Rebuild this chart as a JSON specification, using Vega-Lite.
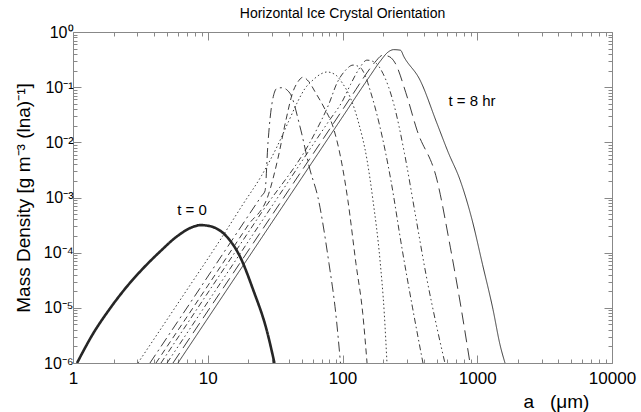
{
  "$schema": "https://vega.github.io/schema/vega-lite/v6.json",
  "width": 539,
  "height": 331,
  "autosize": "none",
  "padding": {"left": 73, "top": 32, "right": 29, "bottom": 49},
  "title": {
    "text": "Horizontal Ice Crystal Orientation",
    "fontSize": 14,
    "fontWeight": "normal",
    "font": "Liberation Sans",
    "color": "#000",
    "offset": 3,
    "frame": "group",
    "anchor": "middle"
  },
  "config": {
    "view": {"stroke": "#888", "strokeWidth": 1},
    "font": "Liberation Sans",
    "axis": {"grid": false, "domain": false, "tickColor": "#888", "tickWidth": 1, "labelColor": "#000", "titleColor": "#000", "labelFont": "Liberation Sans", "titleFont": "Liberation Sans", "titleFontWeight": "normal", "labelOverlap": false, "labelBound": false, "labelFlush": false}
  },
  "layer": [
    {
      "data": {
        "values": [
          {"series": "s0", "a": 1.0715, "mass": 0.000001},
          {"series": "s0", "a": 1.416, "mass": 3.467e-6},
          {"series": "s0", "a": 1.884, "mass": 9.772e-6},
          {"series": "s0", "a": 2.5, "mass": 2.399e-5},
          {"series": "s0", "a": 3.327, "mass": 5.248e-5},
          {"series": "s0", "a": 4.426, "mass": 1.047e-4},
          {"series": "s0", "a": 5.875, "mass": 1.95e-4},
          {"series": "s0", "a": 7.816, "mass": 2.951e-4},
          {"series": "s0", "a": 8.77, "mass": 3.162e-4},
          {"series": "s0", "a": 10.4, "mass": 3.02e-4},
          {"series": "s0", "a": 13.84, "mass": 1.95e-4},
          {"series": "s0", "a": 17.34, "mass": 8.511e-5},
          {"series": "s0", "a": 21.78, "mass": 2.089e-5},
          {"series": "s0", "a": 27.35, "mass": 3.981e-6},
          {"series": "s0", "a": 31.26, "mass": 0.000001},

          {"series": "s1", "a": 3.724, "mass": 0.000001},
          {"series": "s1", "a": 7.943, "mass": 1.585e-5},
          {"series": "s1", "a": 15.85, "mass": 1.995e-4},
          {"series": "s1", "a": 25.12, "mass": 1.072e-3},
          {"series": "s1", "a": 26.61, "mass": 1.318e-3},
          {"series": "s1", "a": 27.99, "mass": 9.772e-3},
          {"series": "s1", "a": 29.99, "mass": 0.05129},
          {"series": "s1", "a": 32.66, "mass": 0.0955},
          {"series": "s1", "a": 35.48, "mass": 0.09772},
          {"series": "s1", "a": 40.74, "mass": 0.07762},
          {"series": "s1", "a": 48.42, "mass": 0.01905},
          {"series": "s1", "a": 57.41, "mass": 3.162e-3},
          {"series": "s1", "a": 65.77, "mass": 0.001},
          {"series": "s1", "a": 79.43, "mass": 6.31e-5},
          {"series": "s1", "a": 89.13, "mass": 7.943e-6},
          {"series": "s1", "a": 96.61, "mass": 0.000001},

          {"series": "s2", "a": 4.13, "mass": 0.000001},
          {"series": "s2", "a": 10, "mass": 2.512e-5},
          {"series": "s2", "a": 19.95, "mass": 3.162e-4},
          {"series": "s2", "a": 28.18, "mass": 1.122e-3},
          {"series": "s2", "a": 33.11, "mass": 5.012e-3},
          {"series": "s2", "a": 38.02, "mass": 0.02512},
          {"series": "s2", "a": 42.66, "mass": 0.07943},
          {"series": "s2", "a": 46.77, "mass": 0.1259},
          {"series": "s2", "a": 50.93, "mass": 0.1514},
          {"series": "s2", "a": 56.23, "mass": 0.1259},
          {"series": "s2", "a": 63.1, "mass": 0.07943},
          {"series": "s2", "a": 74.13, "mass": 0.03981},
          {"series": "s2", "a": 85.11, "mass": 0.01905},
          {"series": "s2", "a": 100, "mass": 3.548e-3},
          {"series": "s2", "a": 109.6, "mass": 8.913e-4},
          {"series": "s2", "a": 125.9, "mass": 6.31e-5},
          {"series": "s2", "a": 141.3, "mass": 7.943e-6},
          {"series": "s2", "a": 152.1, "mass": 0.000001},

          {"series": "s3", "a": 3.034, "mass": 0.000001},
          {"series": "s3", "a": 6.31, "mass": 1.445e-5},
          {"series": "s3", "a": 12.59, "mass": 1.82e-4},
          {"series": "s3", "a": 18.28, "mass": 7.586e-4},
          {"series": "s3", "a": 25.12, "mass": 2.512e-3},
          {"series": "s3", "a": 32.66, "mass": 8.318e-3},
          {"series": "s3", "a": 39.81, "mass": 0.02399},
          {"series": "s3", "a": 45.92, "mass": 0.05129},
          {"series": "s3", "a": 52.48, "mass": 0.09333},
          {"series": "s3", "a": 60.39, "mass": 0.1349},
          {"series": "s3", "a": 69.18, "mass": 0.1738},
          {"series": "s3", "a": 76.74, "mass": 0.1884},
          {"series": "s3", "a": 89.13, "mass": 0.166},
          {"series": "s3", "a": 100, "mass": 0.1175},
          {"series": "s3", "a": 113.8, "mass": 0.06607},
          {"series": "s3", "a": 131.8, "mass": 0.02239},
          {"series": "s3", "a": 152.1, "mass": 4.786e-3},
          {"series": "s3", "a": 168.3, "mass": 8.913e-4},
          {"series": "s3", "a": 189.7, "mass": 7.413e-5},
          {"series": "s3", "a": 204.2, "mass": 7.943e-6},
          {"series": "s3", "a": 213.8, "mass": 0.000001},

          {"series": "s4", "a": 4.498, "mass": 0.000001},
          {"series": "s4", "a": 10, "mass": 1.862e-5},
          {"series": "s4", "a": 25.12, "mass": 5.37e-4},
          {"series": "s4", "a": 63.1, "mass": 0.01549},
          {"series": "s4", "a": 79.43, "mass": 0.05012},
          {"series": "s4", "a": 91.2, "mass": 0.1202},
          {"series": "s4", "a": 104.7, "mass": 0.1995},
          {"series": "s4", "a": 119.7, "mass": 0.2512},
          {"series": "s4", "a": 134.9, "mass": 0.2291},
          {"series": "s4", "a": 147.9, "mass": 0.1585},
          {"series": "s4", "a": 160, "mass": 0.08913},
          {"series": "s4", "a": 189.7, "mass": 0.01905},
          {"series": "s4", "a": 229.1, "mass": 1.995e-3},
          {"series": "s4", "a": 275.4, "mass": 1.259e-4},
          {"series": "s4", "a": 331.1, "mass": 0.00001},
          {"series": "s4", "a": 395.4, "mass": 0.000001},

          {"series": "s5", "a": 4.989, "mass": 0.000001},
          {"series": "s5", "a": 12.59, "mass": 2.951e-5},
          {"series": "s5", "a": 31.62, "mass": 8.511e-4},
          {"series": "s5", "a": 79.43, "mass": 0.02455},
          {"series": "s5", "a": 100, "mass": 0.05623},
          {"series": "s5", "a": 114.8, "mass": 0.1122},
          {"series": "s5", "a": 131.8, "mass": 0.2089},
          {"series": "s5", "a": 152.1, "mass": 0.309},
          {"series": "s5", "a": 173.8, "mass": 0.2818},
          {"series": "s5", "a": 199.5, "mass": 0.1778},
          {"series": "s5", "a": 239.9, "mass": 0.05012},
          {"series": "s5", "a": 288.4, "mass": 6.31e-3},
          {"series": "s5", "a": 346.7, "mass": 5.012e-4},
          {"series": "s5", "a": 416.9, "mass": 3.981e-5},
          {"series": "s5", "a": 501.2, "mass": 4.467e-6},
          {"series": "s5", "a": 575.4, "mass": 0.000001},

          {"series": "s6", "a": 5.521, "mass": 0.000001},
          {"series": "s6", "a": 15.85, "mass": 4.677e-5},
          {"series": "s6", "a": 39.81, "mass": 1.349e-3},
          {"series": "s6", "a": 100, "mass": 0.0389},
          {"series": "s6", "a": 125.9, "mass": 0.0912},
          {"series": "s6", "a": 147.9, "mass": 0.166},
          {"series": "s6", "a": 173.8, "mass": 0.2818},
          {"series": "s6", "a": 199.5, "mass": 0.3802},
          {"series": "s6", "a": 223.9, "mass": 0.3548},
          {"series": "s6", "a": 245.5, "mass": 0.2754},
          {"series": "s6", "a": 295.1, "mass": 0.07943},
          {"series": "s6", "a": 357.3, "mass": 0.0166},
          {"series": "s6", "a": 502.3, "mass": 2.089e-3},
          {"series": "s6", "a": 631, "mass": 1.259e-4},
          {"series": "s6", "a": 758.6, "mass": 0.00001},
          {"series": "s6", "a": 883.1, "mass": 0.000001},

          {"series": "s7", "a": 6.012, "mass": 0.000001},
          {"series": "s7", "a": 15.85, "mass": 3.467e-5},
          {"series": "s7", "a": 39.81, "mass": 0.001},
          {"series": "s7", "a": 100, "mass": 0.02884},
          {"series": "s7", "a": 158.5, "mass": 0.1549},
          {"series": "s7", "a": 190.5, "mass": 0.2951},
          {"series": "s7", "a": 218.8, "mass": 0.4365},
          {"series": "s7", "a": 239.9, "mass": 0.4786},
          {"series": "s7", "a": 269.2, "mass": 0.4677},
          {"series": "s7", "a": 285.8, "mass": 0.3548},
          {"series": "s7", "a": 375.8, "mass": 0.1349},
          {"series": "s7", "a": 501.2, "mass": 0.02239},
          {"series": "s7", "a": 610.9, "mass": 6.457e-3},
          {"series": "s7", "a": 744.7, "mass": 2.089e-3},
          {"series": "s7", "a": 912, "mass": 4.074e-4},
          {"series": "s7", "a": 1096, "mass": 6.026e-5},
          {"series": "s7", "a": 1309, "mass": 9.333e-6},
          {"series": "s7", "a": 1476, "mass": 2.138e-6},
          {"series": "s7", "a": 1607, "mass": 0.000001}
        ]
      },
      "mark": {"type": "line", "interpolate": "monotone", "clip": true, "color": "#262626"},
      "encoding": {
        "x": {
          "field": "a",
          "type": "quantitative",
          "scale": {"type": "log", "domain": [1, 10000], "nice": false},
          "axis": {
            "orient": "bottom",
            "values": [1, 2, 3, 4, 5, 6, 7, 8, 9, 10, 20, 30, 40, 50, 60, 70, 80, 90, 100, 200, 300, 400, 500, 600, 700, 800, 900, 1000, 2000, 3000, 4000, 5000, 6000, 7000, 8000, 9000, 10000],
            "labelExpr": "indexof([1, 10, 100, 1000, 10000], datum.value) >= 0 ? datum.value + '' : ''",
            "tickSize": {"condition": {"test": "indexof([1, 10, 100, 1000, 10000], datum.value) >= 0", "value": -8}, "value": -4},
            "labelFontSize": 17,
            "labelPadding": 15,
            "title": "a\u00a0\u00a0\u00a0(μm)",
            "titleFontSize": 19,
            "titleX": 483,
            "titleY": 38,
            "titleAlign": "center",
            "titleBaseline": "middle"
          }
        },
        "y": {
          "field": "mass",
          "type": "quantitative",
          "scale": {"type": "log", "domain": [0.000001, 1], "nice": false},
          "axis": {
            "orient": "left",
            "values": [0.000001, 0.000002, 0.000003, 0.000004, 0.000005, 0.000006, 0.000007, 0.000008, 0.000009, 0.00001, 0.00002, 0.00003, 0.00004, 0.00005, 0.00006, 0.00007, 0.00008, 0.00009, 0.0001, 0.0002, 0.0003, 0.0004, 0.0005, 0.0006, 0.0007, 0.0008, 0.0009, 0.001, 0.002, 0.003, 0.004, 0.005, 0.006, 0.007, 0.008, 0.009, 0.01, 0.02, 0.03, 0.04, 0.05, 0.06, 0.07, 0.08, 0.09, 0.1, 0.2, 0.3, 0.4, 0.5, 0.6, 0.7, 0.8, 0.9, 1],
            "labelExpr": "indexof([1, 0.1, 0.01, 0.001, 0.0001, 0.00001, 0.000001], datum.value) >= 0 ? '10' + ['⁰', '⁻¹', '⁻²', '⁻³', '⁻⁴', '⁻⁵', '⁻⁶'][indexof([1, 0.1, 0.01, 0.001, 0.0001, 0.00001, 0.000001], datum.value)] : ''",
            "tickSize": {"condition": {"test": "indexof([1, 0.1, 0.01, 0.001, 0.0001, 0.00001, 0.000001], datum.value) >= 0", "value": -8}, "value": -4},
            "labelFontSize": 16,
            "labelPadding": 8,
            "title": "Mass Density [g m⁻³ (lna)⁻¹]",
            "titleFontSize": 19,
            "titleX": -50,
            "titleBaseline": "middle"
          }
        },
        "strokeDash": {
          "field": "series",
          "type": "nominal",
          "scale": {
            "domain": ["s0", "s1", "s2", "s3", "s4", "s5", "s6", "s7"],
            "range": [[1, 0], [10, 4, 2, 4], [6, 4], [1.5, 2.5], [6, 3, 1.5, 3], [6, 3, 1.5, 3, 1.5, 3, 1.5, 3], [12, 6], [1, 0]]
          },
          "legend": null
        },
        "strokeWidth": {"condition": {"test": "datum.series === 's0'", "value": 2.6}, "value": 0.9}
      }
    },
    {
      "data": {
        "values": [
          {"label": "t = 0", "a": 7.64, "mass": 0.000594},
          {"label": "t = 8 hr", "a": 914, "mass": 0.0561}
        ]
      },
      "mark": {"type": "text", "fontSize": 15, "font": "Liberation Sans", "color": "#000", "align": "center", "baseline": "middle"},
      "encoding": {
        "x": {
          "field": "a",
          "type": "quantitative",
          "scale": {"type": "log", "domain": [1, 10000], "nice": false},
          "axis": {
            "orient": "top",
            "values": [1, 2, 3, 4, 5, 6, 7, 8, 9, 10, 20, 30, 40, 50, 60, 70, 80, 90, 100, 200, 300, 400, 500, 600, 700, 800, 900, 1000, 2000, 3000, 4000, 5000, 6000, 7000, 8000, 9000, 10000],
            "labels": false,
            "title": null,
            "tickSize": {"condition": {"test": "indexof([1, 10, 100, 1000, 10000], datum.value) >= 0", "value": -8}, "value": -4}
          }
        },
        "y": {
          "field": "mass",
          "type": "quantitative",
          "scale": {"type": "log", "domain": [0.000001, 1], "nice": false},
          "axis": {
            "orient": "right",
            "values": [0.000001, 0.000002, 0.000003, 0.000004, 0.000005, 0.000006, 0.000007, 0.000008, 0.000009, 0.00001, 0.00002, 0.00003, 0.00004, 0.00005, 0.00006, 0.00007, 0.00008, 0.00009, 0.0001, 0.0002, 0.0003, 0.0004, 0.0005, 0.0006, 0.0007, 0.0008, 0.0009, 0.001, 0.002, 0.003, 0.004, 0.005, 0.006, 0.007, 0.008, 0.009, 0.01, 0.02, 0.03, 0.04, 0.05, 0.06, 0.07, 0.08, 0.09, 0.1, 0.2, 0.3, 0.4, 0.5, 0.6, 0.7, 0.8, 0.9, 1],
            "labels": false,
            "title": null,
            "tickSize": {"condition": {"test": "indexof([1, 0.1, 0.01, 0.001, 0.0001, 0.00001, 0.000001], datum.value) >= 0", "value": -8}, "value": -4}
          }
        },
        "text": {"field": "label"}
      }
    }
  ],
  "resolve": {"axis": {"x": "independent", "y": "independent"}}
}
